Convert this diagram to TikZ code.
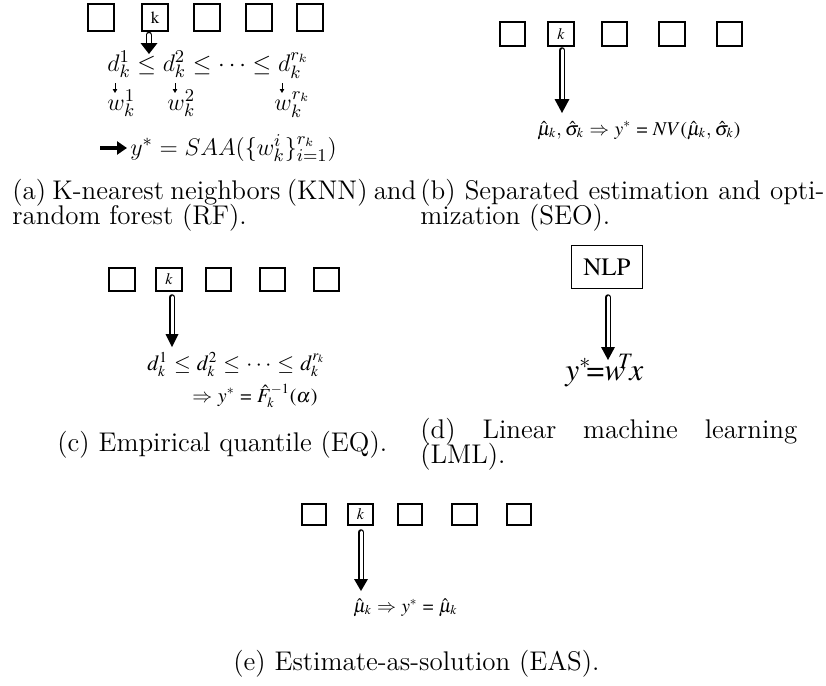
\documentclass[tikz,border=0pt]{standalone}
\usepackage{graphicx}
\usetikzlibrary{arrows.meta}
% Times-style math version for the formulas of panels (b)-(e)
\DeclareMathVersion{times}
\SetSymbolFont{operators}{times}{OT1}{ptm}{m}{n}
\SetSymbolFont{letters}{times}{OML}{ztmcm}{m}{it}
\SetSymbolFont{symbols}{times}{OMS}{ztmcm}{m}{n}
\SetSymbolFont{largesymbols}{times}{OMX}{ztmcm}{m}{n}
\newlength{\px}\setlength{\px}{0.5pt}
\newcommand{\tms}[1]{{\mathversion{times}$#1$}}
\newcommand{\fitw}[2]{\resizebox{#1\px}{!}{#2}}
% hollow double shaft with a filled head: from, tip, line width, gap, head length, head width
\newcommand{\fatarrow}[6]{%
  \draw[line width=#3\px, double distance=#4\px, line cap=round] (#1) -- ([shift={(0,{-(#5-1)})}]#2);
  \fill (#2) -- ([shift={({-#6/2},{-#5})}]#2) -- ([shift={({#6/2},{-#5})}]#2) -- cycle;}
\begin{document}
\begin{tikzpicture}[x=0.5pt,y=-0.5pt,
  cellA/.style={draw, line width=2\px, minimum width=26\px, minimum height=27\px, inner sep=0pt, font=\fontsize{8.5}{9}\selectfont},
  cellB/.style={draw, line width=1.7\px, minimum width=25.5\px, minimum height=24.5\px, inner sep=0pt, font=\fontsize{8}{9}\selectfont},
  cellC/.style={cellB, minimum height=23.5\px},
  cellE/.style={cellB, minimum width=24.5\px, minimum height=21.5\px},
  mtxt/.style={inner sep=0pt, anchor=base west},
  amath/.style={mtxt, font=\fontsize{12.3}{14}\selectfont},
  capline/.style={inner sep=0pt, anchor=base west, font=\fontsize{13.5}{15}\selectfont},
  thinarrow/.style={line width=0.45pt, -{Triangle[length=2pt,width=2.25pt]}}]
\useasboundingbox (0,0) rectangle (826,686);

% ---------- (a) KNN and RF ----------
\foreach \n/\x in {1/101,3/206.5,4/258.5,5/310}
  \node[cellA] (a\n) at (\x,17.5) {};
\node[cellA] (ak) at (155,17.5) {\tms{\mathrm{k}}};
\coordinate (atip) at (149,54);
\fatarrow{[shift={(-6,3)}]ak.south}{atip}{1.6}{3.6}{11}{17}
\node[amath] (ad) at (107,71) {$d_k^1 \le d_k^2 \le \cdots \le d_k^{r_k}$};
\node[amath] (aw1) at (107,110) {$w_k^1$};
\node[amath] (aw2) at (167,110) {$w_k^2$};
\node[amath] (aw3) at (274,110) {$w_k^{r_k}$};
\coordinate (ad1) at (115,83);  \coordinate (ae1) at (115,93);
\coordinate (ad2) at (175,83);  \coordinate (ae2) at (175,93);
\coordinate (ad3) at (282,83);  \coordinate (ae3) at (282,93);
\draw[thinarrow] (ad1) -- (ae1);
\draw[thinarrow] (ad2) -- (ae2);
\draw[thinarrow] (ad3) -- (ae3);
\node[amath] (ay) at (130,155) {$y^{*} = SAA(\{w_k^i\}_{i=1}^{r_k})$};
\coordinate (aimpl) at (100,148); \coordinate (aimplend) at (127,148);
\draw[line width=1.6pt, -{Triangle[length=5pt,width=6.5pt]}] (aimpl) -- (aimplend);

% ---------- (b) SEO ----------
\foreach \n/\x in {1/512.5,3/614.5,4/672,5/729.5}
  \node[cellB] (b\n) at (\x,34) {};
\node[cellB] (bk) at (561,34) {\tms{k}};
\coordinate (btip) at (562,113);
\fatarrow{[shift={(1,3)}]bk.south}{btip}{1.4}{3}{14}{15}
\node[mtxt] (bf) at (537,135) {\fitw{203}{\tms{\hat{\mu}_k,\hat{\sigma}_k \Rightarrow y^{*} = NV(\hat{\mu}_k,\hat{\sigma}_k)}}};

% ---------- captions (a), (b) ----------
\node[capline] (capa1) at (12,199) {\makebox[404\px][s]{(a) K-nearest neighbors (KNN) and}};
\node[capline] (capa2) at (12,224) {random forest (RF).};
\node[capline] (capb1) at (420,199) {\makebox[404\px][s]{(b) Separated estimation and opti-}};
\node[capline] (capb2) at (420,224) {mization (SEO).};

% ---------- (c) EQ ----------
\foreach \n/\x in {1/122,3/218.5,4/272.5,5/326.5}
  \node[cellC] (c\n) at (\x,279.5) {};
\node[cellC] (ck) at (169,279.5) {\tms{k}};
\coordinate (ctip) at (172,347);
\fatarrow{[shift={(3,5)}]ck.south}{ctip}{1.4}{3}{13}{13}
\node[mtxt] (cf1) at (147,370) {\fitw{178}{\tms{d_k^1 \le d_k^2 \le \cdots \le d_k^{r_k}}}};
\node[mtxt] (cf2) at (192,402) {\fitw{125}{\tms{\Rightarrow y^{*} = \hat{F}_k^{-1}(\alpha)}}};

% ---------- (d) LML ----------
\node[draw, line width=1.3\px, minimum width=71\px, minimum height=43\px, inner sep=0pt,
      font=\fontsize{12.5}{14}\selectfont] (nlp) at (607,267) {\tms{\mathrm{NLP}}};
\coordinate (dtip) at (608,360);
\fatarrow{[shift={(1,8)}]nlp.south}{dtip}{1.4}{3}{13}{14}
\node[mtxt] (df) at (565,380) {\fitw{78}{\tms{y^{*}\!{=}w^{\!\!T}\!x}}};

% ---------- captions (c), (d) ----------
\node[capline] (capc) at (57,451) {(c) Empirical quantile (EQ).};
\node[capline] (capd1) at (420,438) {\makebox[377\px][s]{(d) Linear machine learning}};
\node[capline] (capd2) at (420,463) {(LML).};

% ---------- (e) EAS ----------
\foreach \n/\x in {1/314,3/410,4/464.5,5/519}
  \node[cellE] (e\n) at (\x,514.5) {};
\node[cellE] (ek) at (360.5,514.5) {\tms{k}};
\coordinate (etip) at (361,591);
\fatarrow{[shift={(0.5,6)}]ek.south}{etip}{1.4}{3}{12}{14}
\node[mtxt] (ef) at (353,612) {\fitw{104}{\tms{\hat{\mu}_k \Rightarrow y^{*} = \hat{\mu}_k}}};

\node[capline] (cape) at (233,670) {(e) Estimate-as-solution (EAS).};
\end{tikzpicture}
\end{document}
